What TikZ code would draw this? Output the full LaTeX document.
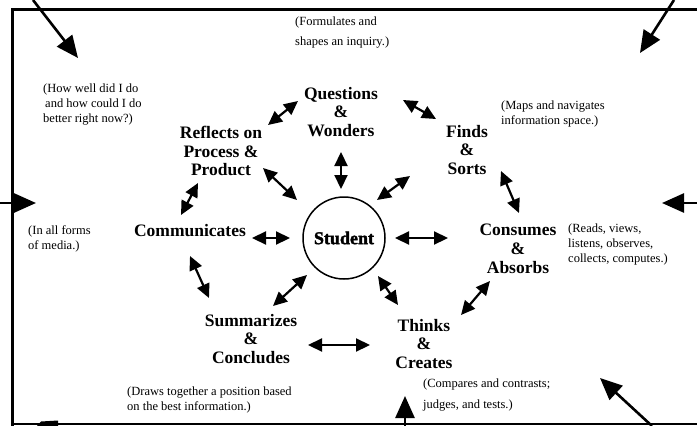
\documentclass[tikz,border=0pt]{standalone}
\usepackage{fontspec}
\setmainfont{Liberation Serif}
\newfontfamily\studentfont[FakeBold=2]{Liberation Serif}
\usetikzlibrary{arrows.meta}
\begin{document}
\begin{tikzpicture}[x=1pt,y=-1pt,
  lab/.style={font=\bfseries\fontsize{17.5}{18.8}\selectfont, align=center, inner sep=0pt},
  note/.style={font=\fontsize{12.5}{15}\selectfont, align=left, anchor=north west, inner sep=0pt},
  dbl/.style={{Triangle[length=14pt,width=13pt]}-{Triangle[length=14pt,width=13pt]}, line width=2.2pt},
  big/.style={-{Triangle[length=22pt,width=19pt]}, line width=2.6pt},
  frame/.style={line width=2.5pt}]
\useasboundingbox (0,0) rectangle (697,426);
% frame
\draw[frame] (697,9.5) -- (12.5,9.5) -- (12.5,426);
\draw[line width=2pt] (12.5,423.5) -- (697,423.5);
\fill (37,426) -- (41,421.5) -- (58,420.5) -- (58,426) -- cycle;

% central node
\node[circle, draw, line width=1.5pt, minimum size=82pt, inner sep=0pt] (st) at (344,238)
  {\studentfont\bfseries\fontsize{18}{18}\selectfont Student};

% labels
\node[lab] (Q)  at (341,112) {Questions\\\&\\Wonders};
\node[lab] (R)  at (221,151) {Reflects on\\Process \&\\Product};
\node[lab] (F)  at (467,150) {Finds\\\&\\Sorts};
\node[lab] (C)  at (190,231) {Communicates};
\node[lab] (CA) at (518,249) {Consumes\\\&\\Absorbs};
\node[lab] (S)  at (251,339) {Summarizes\\\&\\Concludes};
\node[lab] (T)  at (424,344) {Thinks\\\&\\Creates};

% notes
\node[note, font=\fontsize{12.5}{20}\selectfont] (nQ) at (295,17) {(Formulates and\\shapes an inquiry.)};
\node[note] (nR)  at (43,84)  {(How well did I do\\\hspace{2pt}and how could I do\\better right now?)};
\node[note] (nF)  at (501,101) {(Maps and navigates\\information space.)};
\node[note] (nC)  at (28,225) {(In all forms\\of media.)};
\node[note] (nCA) at (568,224) {(Reads, views,\\listens, observes,\\collects, computes.)};
\node[note] (nS)  at (127,387) {(Draws together a position based\\on the best information.)};
\node[note, font=\fontsize{12.5}{21}\selectfont] (nT) at (423,379) {(Compares and contrasts;\\judges, and tests.)};

% arrow end points
\coordinate (rq1) at (268,125); \coordinate (rq2) at (298,101);
\coordinate (qf1) at (403,100); \coordinate (qf2) at (436,119);
\coordinate (qs1) at (341,152); \coordinate (qs2) at (341,189);
\coordinate (rs1) at (263,168); \coordinate (rs2) at (297,200);
\coordinate (fs1) at (410,176); \coordinate (fs2) at (377,200);
\coordinate (rc1) at (198,183); \coordinate (rc2) at (181,215);
\coordinate (fc1) at (501,171); \coordinate (fc2) at (519,213);
\coordinate (cs1) at (252,238); \coordinate (cs2) at (290,238);
\coordinate (sc1) at (395,238); \coordinate (sc2) at (448,238);
\coordinate (cu1) at (190,256); \coordinate (cu2) at (209,298);
\coordinate (su1) at (307,275); \coordinate (su2) at (273,306);
\coordinate (st1) at (378,276); \coordinate (st2) at (398,305);
\coordinate (ct1) at (490,281); \coordinate (ct2) at (461,315);
\coordinate (ut1) at (308,345); \coordinate (ut2) at (370,345);

\foreach \a in {rq,qf,qs,rs,fs,rc,fc,cs,sc,cu,su,st,ct,ut}
  \draw[dbl] (\a1) -- (\a2);

% outer arrows
\coordinate (tl0) at (33,0);   \coordinate (tl1) at (78,58);
\coordinate (tr0) at (674,0);  \coordinate (tr1) at (640,53);
\coordinate (l0)  at (0,203);  \coordinate (l1)  at (36,203);
\coordinate (r0)  at (697,203);\coordinate (r1)  at (662,203);
\coordinate (b0)  at (405,426);\coordinate (b1)  at (405,396);
\coordinate (br0) at (652,426);\coordinate (br1) at (600,378);
\foreach \a in {tl,tr,l,r,b,br}
  \draw[big] (\a0) -- (\a1);
\end{tikzpicture}
\end{document}
